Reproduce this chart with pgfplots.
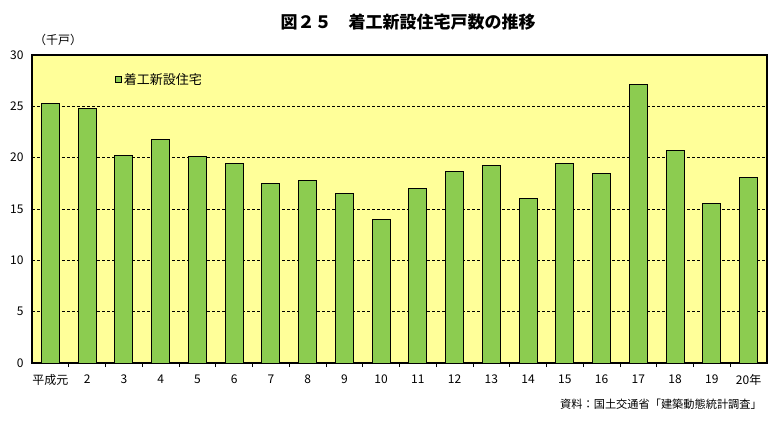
\documentclass[border=0pt]{standalone}
\usepackage{fontspec}
\setmainfont{Noto Sans CJK JP}
\usepackage{pgfplots}
\pgfplotsset{compat=1.18}
\definecolor{bg}{RGB}{255,255,153}
\definecolor{barc}{RGB}{140,204,80}
\begin{document}
\begin{tikzpicture}
\path (-32pt,-61pt) rectangle (745pt,363pt);
\begin{axis}[anchor=south west, at={(0pt,0pt)}, scale only axis,
  width=735pt, height=308pt,
  xmin=-0.5, xmax=19.5, ymin=0, ymax=30,
  ytick={0,5,...,30},
  xtick={0,...,19},
  xticklabels={平成元,2,3,4,5,6,7,8,9,10,11,12,13,14,15,16,17,18,19,20年},
  minor xtick={0.5,1.5,...,18.5},
  major tick length=0pt, minor tick length=4pt,
  xtick pos=bottom, ytick pos=left,
  minor tick style={black, line width=0.8pt},
  axis background/.style={fill=bg},
  axis line style={black, line width=1.3pt},
  ymajorgrids, grid style={black, line width=0.8pt, dash pattern=on 3pt off 2pt},
  /pgf/number format/assume math mode=true,
  tick label style={font=\fontsize{12}{13}\selectfont},
  xticklabel style={yshift=-8pt},
  yticklabel style={xshift=-5pt},
  ybar, bar width=18pt,
  legend style={at={(0.113,0.92)}, anchor=west, draw=none, fill=none,
    font=\fontsize{13}{14}\selectfont, inner sep=0pt},
  legend image code/.code={\draw[black, line width=0.6pt, fill=barc] (0pt,-3pt) rectangle (6pt,3pt);},
]
\addplot[draw=black, line width=1pt, fill=barc] coordinates {
(0,25.3) (1,24.8) (2,20.2) (3,21.8) (4,20.1) (5,19.45) (6,17.5) (7,17.8) (8,16.5) (9,14.0)
(10,17.0) (11,18.7) (12,19.2) (13,16.0) (14,19.45) (15,18.5) (16,27.1) (17,20.7) (18,15.5) (19,18.1)};
\addlegendentry{着工新設住宅}
\end{axis}
\node[font=\fontsize{17}{19}\selectfont\bfseries] at (376pt,341pt) {図２５　着工新設住宅戸数の推移};
\node[anchor=west, font=\fontsize{12}{13}\selectfont, inner sep=0pt] at (2pt,323pt) {（千戸）};
\node[anchor=east, font=\fontsize{11.2}{12}\selectfont, inner sep=0pt] at (730pt,-41pt) {資料：国土交通省「建築動態統計調査」};
\end{tikzpicture}
\end{document}
